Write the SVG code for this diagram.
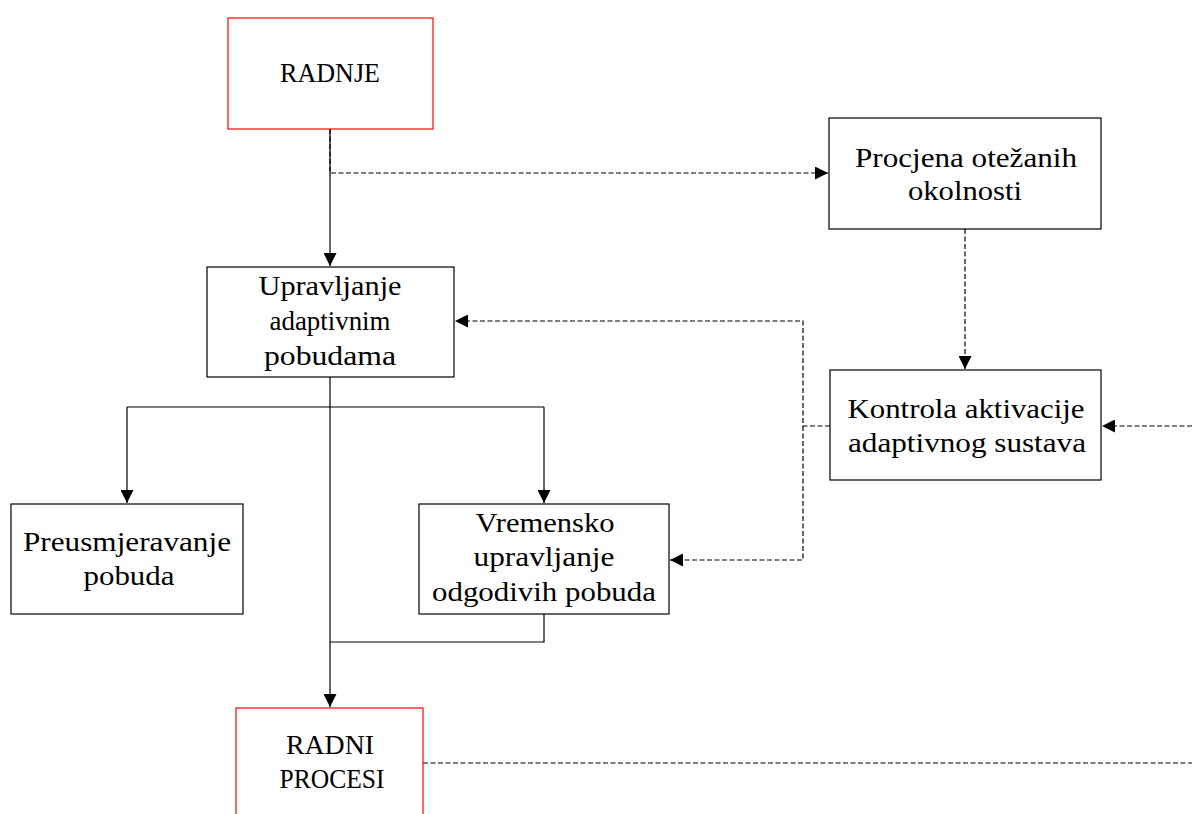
<svg xmlns="http://www.w3.org/2000/svg" width="1192" height="814" viewBox="0 0 1192 814">
  <style>
    .box { fill: #ffffff; stroke: #000000; stroke-width: 1.2; }
    .red { fill: #ffffff; stroke: #ff0000; stroke-width: 1.2; }
    .lbl { font-family: "Liberation Serif", "DejaVu Serif", serif; font-size: 27px; fill: #000000; text-anchor: middle; }
    .solid { fill: none; stroke: #000000; stroke-width: 1.2; }
    .dash { fill: none; stroke: #000000; stroke-width: 1.2; stroke-dasharray: 5 2.5; }
  </style>
  <defs>
    <marker id="arrow" viewBox="0 0 13 13" refX="13" refY="6.5" markerWidth="13" markerHeight="13" markerUnits="userSpaceOnUse" orient="auto">
      <path d="M0,0 L13,6.5 L0,13 Z" fill="#000000"/>
    </marker>
  </defs>

  <g id="connectors">
    <path class="solid" d="M330,129 V266" marker-end="url(#arrow)"/>
    <path class="dash" d="M330,129 V173 H828" marker-end="url(#arrow)"/>
    <path class="dash" d="M965,229 V369" marker-end="url(#arrow)"/>
    <path class="dash" d="M1192,426 H1102" marker-end="url(#arrow)"/>
    <path class="dash" d="M830,426 H803 V321 H455" marker-end="url(#arrow)"/>
    <path class="dash" d="M803,426 V560 H670" marker-end="url(#arrow)"/>
    <path class="solid" d="M330,377 V707" marker-end="url(#arrow)"/>
    <path class="solid" d="M127,407 H544"/>
    <path class="solid" d="M127,407 V503" marker-end="url(#arrow)"/>
    <path class="solid" d="M544,407 V503" marker-end="url(#arrow)"/>
    <path class="solid" d="M544,614 V642 H330"/>
    <path class="dash" d="M423,763 H1192"/>
  </g>

  <g id="radnje">
    <rect class="red" x="228" y="18" width="205" height="111"/>
    <text class="lbl" x="330" y="82" textLength="100" lengthAdjust="spacingAndGlyphs">RADNJE</text>
  </g>

  <g id="procjena">
    <rect class="box" x="829" y="118" width="272" height="111"/>
    <text class="lbl" x="966" y="167" textLength="222" lengthAdjust="spacingAndGlyphs">Procjena otežanih</text>
    <text class="lbl" x="965" y="200" textLength="114" lengthAdjust="spacingAndGlyphs">okolnosti</text>
  </g>

  <g id="upravljanje">
    <rect class="box" x="207" y="267" width="247" height="110"/>
    <text class="lbl" x="330" y="295" textLength="143" lengthAdjust="spacingAndGlyphs">Upravljanje</text>
    <text class="lbl" x="330" y="330" textLength="121" lengthAdjust="spacingAndGlyphs">adaptivnim</text>
    <text class="lbl" x="330" y="365" textLength="132" lengthAdjust="spacingAndGlyphs">pobudama</text>
  </g>

  <g id="kontrola">
    <rect class="box" x="830" y="370" width="271" height="110"/>
    <text class="lbl" x="966" y="418" textLength="237" lengthAdjust="spacingAndGlyphs">Kontrola aktivacije</text>
    <text class="lbl" x="967" y="452" textLength="238" lengthAdjust="spacingAndGlyphs">adaptivnog sustava</text>
  </g>

  <g id="preusmjeravanje">
    <rect class="box" x="11" y="504" width="232" height="110"/>
    <text class="lbl" x="127" y="551" textLength="208" lengthAdjust="spacingAndGlyphs">Preusmjeravanje</text>
    <text class="lbl" x="129" y="585" textLength="91" lengthAdjust="spacingAndGlyphs">pobuda</text>
  </g>

  <g id="vremensko">
    <rect class="box" x="419" y="504" width="250" height="110"/>
    <text class="lbl" x="545" y="532" textLength="139" lengthAdjust="spacingAndGlyphs">Vremensko</text>
    <text class="lbl" x="544" y="566" textLength="141" lengthAdjust="spacingAndGlyphs">upravljanje</text>
    <text class="lbl" x="544" y="601" textLength="224" lengthAdjust="spacingAndGlyphs">odgodivih pobuda</text>
  </g>

  <g id="radni-procesi">
    <rect class="red" x="236" y="708" width="187" height="120"/>
    <text class="lbl" x="330" y="754" textLength="88" lengthAdjust="spacingAndGlyphs">RADNI</text>
    <text class="lbl" x="332" y="788" textLength="105" lengthAdjust="spacingAndGlyphs">PROCESI</text>
  </g>
</svg>
